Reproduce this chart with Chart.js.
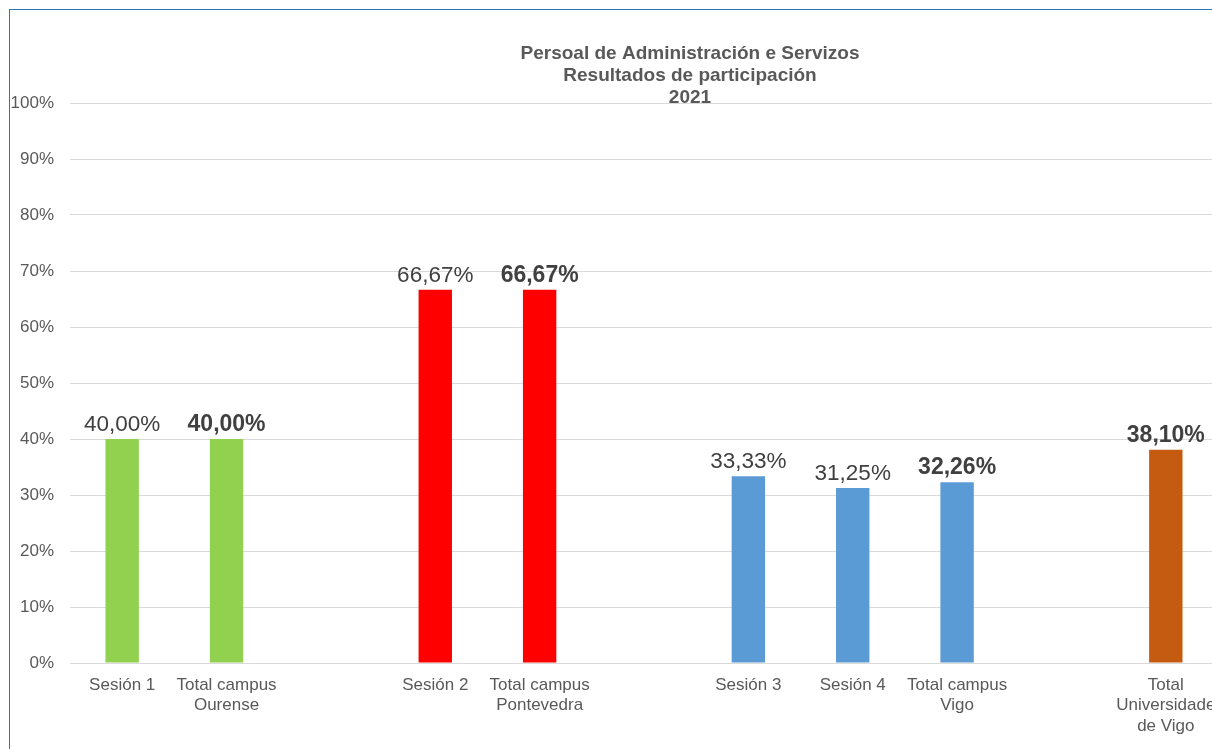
<!DOCTYPE html>
<html>
<head>
<meta charset="utf-8">
<script src="https://cdn.jsdelivr.net/npm/chart.js@4/dist/chart.umd.min.js"></script>
<style>
  html, body { margin: 0; padding: 0; background: #fff; overflow: hidden; }
  #frame {
    position: absolute; left: 9px; top: 9px;
    width: 1400px; height: 760px;
    border-left: 1px solid #2E75B6; border-top: 1px solid #2E75B6;
  }
  #box { position: absolute; left: 1px; top: 1px; width: 1360px; height: 738px; }
</style>
</head>
<body>
<div id="frame"><div id="box"><canvas id="myChart"></canvas></div></div>
<script>
const categories = ["Sesión 1", ["Total campus", "Ourense"], "", "Sesión 2", ["Total campus", "Pontevedra"], "", "Sesión 3", "Sesión 4", ["Total campus", "Vigo"], "", ["Total", "Universidade", "de Vigo"]];
const values = [40.00, 40.00, null, 66.67, 66.67, null, 33.33, 31.25, 32.26, null, 38.10];
const isTotal = [false, true, false, false, true, false, false, false, true, false, true];
const barColors = ["#92D050", "#92D050", "#fff", "#FF0000", "#FF0000", "#fff", "#5B9BD5", "#5B9BD5", "#5B9BD5", "#fff", "#C55A11"];
const titleLines = ["Persoal de Administración e Servizos", "Resultados de participación", "2021"];
const yTicks = [0, 10, 20, 30, 40, 50, 60, 70, 80, 90, 100];

const FONT = "'Liberation Sans', Arial, sans-serif";

//~==== value labels above bars ====~//
const valueLabels = {
  id: "valueLabels",
  afterDatasetsDraw(chart) {
    const c = chart.ctx;
    const meta = chart.getDatasetMeta(0);
    c.save();
    c.textAlign = "center";
    c.textBaseline = "alphabetic";
    c.fillStyle = "#404040";
    meta.data.forEach((bar, i) => {
      if (values[i] == null) return;
      c.font = (isTotal[i] ? "bold 23px " : "22.5px ") + FONT;
      c.fillText(values[i].toFixed(2).replace(".", ",") + "%", bar.x, bar.y - 8);
    });
    c.restore();
  }
};

//~==== title drawn over the plot ====~//
const titlePlugin = {
  id: "titlePlugin",
  afterDraw(chart) {
    const c = chart.ctx;
    c.save();
    c.textAlign = "center";
    c.textBaseline = "middle";
    c.fillStyle = "#595959";
    c.font = "bold 19px " + FONT;
    titleLines.forEach((t, i) => c.fillText(t, chart.width / 2 - 1, 43 + i * 22));
    c.restore();
  }
};

new Chart(document.getElementById("myChart"), {
  type: "bar",
  data: {
    labels: categories,
    datasets: [{
      data: values,
      backgroundColor: barColors,
      categoryPercentage: 1,
      barPercentage: 0.32
    }]
  },
  plugins: [valueLabels, titlePlugin],
  options: {
    responsive: true,
    maintainAspectRatio: false,
    animation: false,
    layout: { padding: { top: 92, right: 153, bottom: 0, left: 0 } },
    plugins: { legend: { display: false }, tooltip: { enabled: false }, title: { display: false } },
    scales: {
      x: {
        grid: { display: false },
        border: { display: false },
        ticks: { color: "#595959", font: { family: FONT, size: 17 }, padding: 4, maxRotation: 0, autoSkip: false },
        afterFit(s) { s.height = 86; }
      },
      y: {
        min: 0, max: 100,
        afterBuildTicks(s) { s.ticks = yTicks.map(v => ({ value: v })); },
        grid: { color: "#D9D9D9", lineWidth: 1, drawTicks: false },
        border: { display: false },
        ticks: { color: "#595959", font: { family: FONT, size: 17 }, padding: 16, callback: v => v + "%" },
        afterFit(s) { s.width = 59; }
      }
    }
  }
});
</script>
</body>
</html>
